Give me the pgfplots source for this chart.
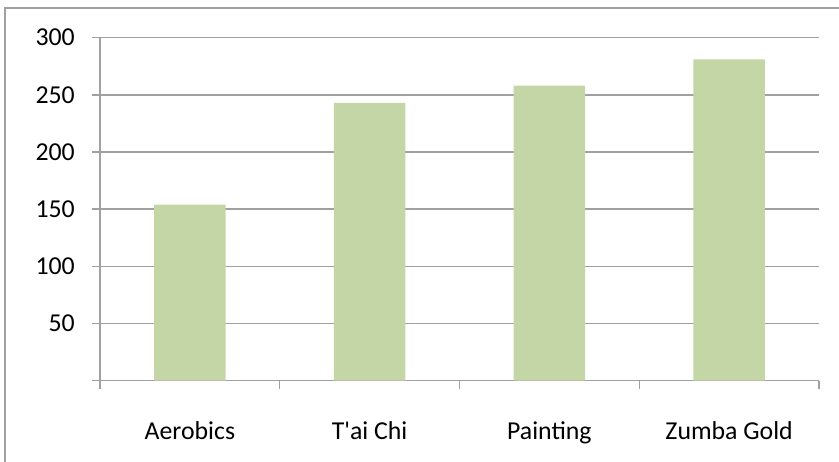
\documentclass[border=0pt]{standalone}
\usepackage{pgfplots}
\pgfplotsset{compat=1.18}
\usepackage{fontspec}
% plain family: keeps the straight apostrophe in "T'ai Chi"
\newfontfamily\chartfont{Carlito}
\definecolor{barfill}{RGB}{196,214,166}
\definecolor{linegray}{RGB}{160,160,160}
\begin{document}
\begin{tikzpicture}[x=1bp,y=1bp]
\useasboundingbox (0,0) rectangle (839,462);
% chart frame (top and left edges)
\draw[linegray, line width=1.4bp] (5,0) -- (5,454) -- (839,454);
\begin{axis}[
  at={(100bp,81.3bp)}, anchor=south west,
  scale only axis, width=719bp, height=343bp,
  xmin=-0.5, xmax=3.5, ymin=0, ymax=300,
  ytick={0,50,...,300},
  yticklabels={,50,100,150,200,250,300},
  xtick={0,1,2,3},
  xticklabels={Aerobics,T'ai Chi,Painting,Zumba Gold},
  minor xtick={-0.5,0.5,1.5,2.5,3.5},
  ymajorgrids,
  grid style={linegray, line width=1.4bp},
  axis x line*=bottom, axis y line*=left,
  axis line style={linegray, line width=1.4bp, -},
  tick align=outside,
  tick style={linegray, line width=1.4bp},
  major tick length=8bp,
  minor tick length=8bp,
  major x tick style={draw=none},
  tick label style={font=\chartfont\fontsize{25.8bp}{31bp}\selectfont, text=black},
  yticklabel style={anchor=east, inner sep=0pt, xshift=-17bp},
  xticklabel style={anchor=base, inner sep=0pt, yshift=-51bp},
  /pgf/number format/assume math mode=true,
  clip=false,
]
\addplot[ybar, bar width=71.7bp, fill=barfill, draw=none]
  coordinates {(0,154) (1,243) (2,258) (3,281)};
\end{axis}
\end{tikzpicture}
\end{document}
